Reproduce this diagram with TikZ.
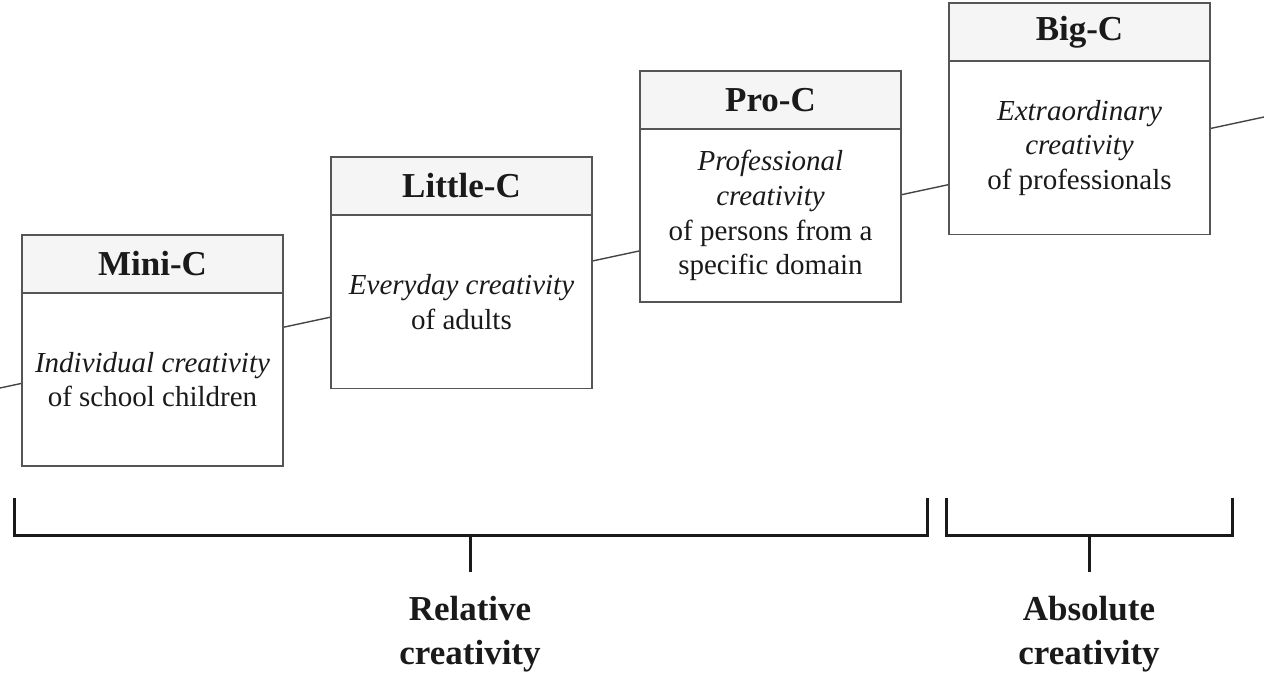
\documentclass[tikz,border=0pt]{standalone}
\usepackage{fontspec}
\setmainfont{Liberation Serif}
\begin{document}
\begin{tikzpicture}[x=0.5pt,y=-0.5pt,
  boxbody/.style={draw=boxline, line width=0.8pt, fill=white, rectangle, inner sep=0pt,
    minimum width=130.5pt, minimum height=86.5pt, align=center,
    font=\fontsize{14.5pt}{17.4pt}\selectfont, text=txt},
  boxhead/.style={draw=boxline, line width=0.8pt, fill=headfill, rectangle, inner sep=0pt,
    minimum width=130.5pt, minimum height=29pt,
    font=\fontsize{17.5pt}{20pt}\selectfont\bfseries, text=txt},
  trend/.style={draw=trendline, line width=0.7pt},
  brace/.style={draw=txt, line width=1.5pt},
  grouplabel/.style={align=center, font=\fontsize{17.5pt}{22pt}\selectfont\bfseries, text=txt}]
\definecolor{boxline}{HTML}{555555}
\definecolor{headfill}{HTML}{F5F5F5}
\definecolor{trendline}{HTML}{444444}
\definecolor{txt}{HTML}{1A1A1A}
\useasboundingbox (0,0) rectangle (1264,680);
% trend line
\coordinate (tstart) at (0,388);
\coordinate (tend) at (1264,117);
\draw[trend] (tstart) -- (tend);
% Mini-C
\node[boxbody] (minibody) at (152.5,379.5) {\textit{Individual creativity}\\of school children};
\node[boxhead] (minihead) at (152.5,264) {Mini-C};
% Little-C
\node[boxbody] (littlebody) at (461.5,302) {\textit{Everyday creativity}\\of adults};
\node[boxhead] (littlehead) at (461.5,186) {Little-C};
% Pro-C
\node[boxbody] (probody) at (770.5,215.5) {\textit{Professional}\\\textit{creativity}\\of persons from a\\specific domain};
\node[boxhead] (prohead) at (770.5,100) {Pro-C};
% Big-C
\node[boxbody] (bigbody) at (1079.5,148) {\textit{Extraordinary}\\\textit{creativity}\\of professionals};
\node[boxhead] (bighead) at (1079.5,32) {Big-C};
% brackets
\coordinate (rl) at (14,498);
\coordinate (rr) at (927,498);
\coordinate (rt) at (470,535);
\coordinate (rtb) at (470,572);
\draw[brace] (rl) -- (rl |- rt) -- (rr |- rt) -- (rr);
\draw[brace] (rt) -- (rtb);
\coordinate (al) at (946,498);
\coordinate (ar) at (1232,498);
\coordinate (at2) at (1089,535);
\coordinate (atb) at (1089,572);
\draw[brace] (al) -- (al |- at2) -- (ar |- at2) -- (ar);
\draw[brace] (at2) -- (atb);
\node[grouplabel, anchor=north] (rel) at (470,589) {Relative\\creativity};
\node[grouplabel, anchor=north] (abs) at (1089,589) {Absolute\\creativity};
\end{tikzpicture}
\end{document}
